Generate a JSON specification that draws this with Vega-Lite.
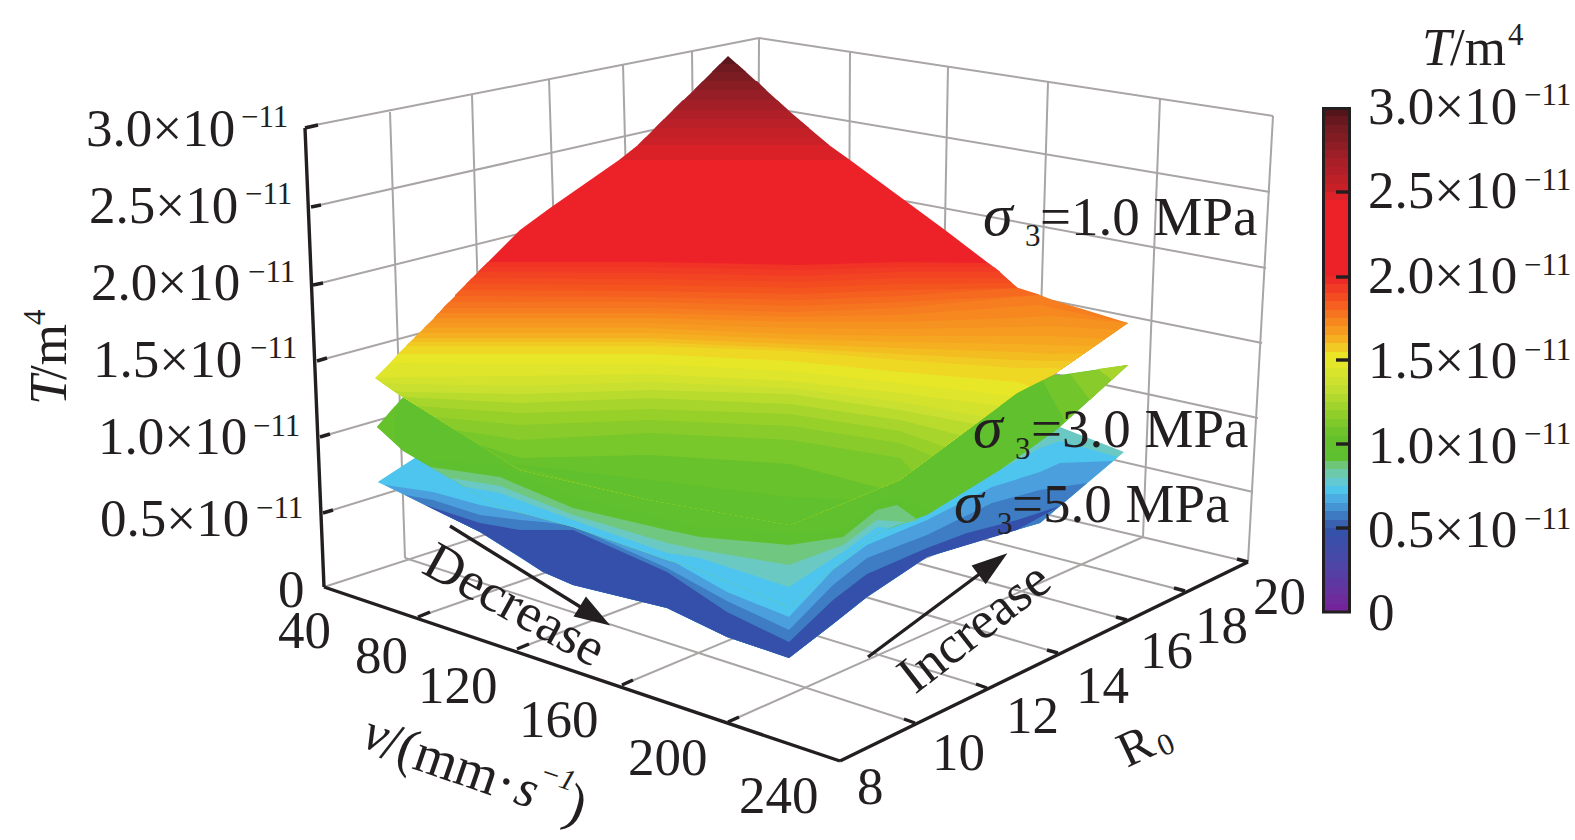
{
"$schema":"https://vega.github.io/schema/vega-lite/v6.json",
"autosize":{"type":"fit","contains":"padding"},
"padding":0,"width":1575,"height":840,"background":"white",
"config":{"view":{"stroke":null},"text":{"font":"Liberation Serif","align":"left","baseline":"alphabetic","color":"#231f20"}},
"datasets":{
"grid":[
{"x":305,"y":127,"x2":759,"y2":38},{"x":311,"y":207,"x2":759,"y2":106},{"x":313,"y":285,"x2":759,"y2":174},{"x":317,"y":361,"x2":759,"y2":242},{"x":320,"y":437,"x2":759,"y2":310},{"x":323,"y":513,"x2":759,"y2":378},{"x":324,"y":587,"x2":757,"y2":446},
{"x":759,"y":38,"x2":1273,"y2":116},{"x":759,"y":106,"x2":1270,"y2":192},{"x":759,"y":174,"x2":1266,"y2":268},{"x":759,"y":242,"x2":1262,"y2":343},{"x":759,"y":310,"x2":1258,"y2":418},{"x":759,"y":378,"x2":1253,"y2":492},{"x":757,"y":446,"x2":1248,"y2":562},
{"x":390,"y":112,"x2":405,"y2":558},{"x":472,"y":95,"x2":485,"y2":534},{"x":549,"y":79,"x2":563,"y2":509},{"x":623,"y":64,"x2":634,"y2":486},{"x":692,"y":52,"x2":697,"y2":466},{"x":759,"y":38,"x2":757,"y2":446},
{"x":850,"y":52,"x2":848,"y2":467},{"x":948,"y":67,"x2":940,"y2":489},{"x":1048,"y":82,"x2":1035,"y2":512},{"x":1160,"y":99,"x2":1143,"y2":537},{"x":1273,"y":116,"x2":1248,"y2":562},
{"x":418,"y":617,"x2":848,"y2":467},{"x":517,"y":649,"x2":940,"y2":489},{"x":622,"y":685,"x2":1035,"y2":512},{"x":728,"y":722,"x2":1143,"y2":537},
{"x":915,"y":723,"x2":405,"y2":558},{"x":987,"y":688,"x2":485,"y2":534},{"x":1058,"y":653,"x2":563,"y2":509},{"x":1127,"y":620,"x2":634,"y2":486},{"x":1185,"y":591,"x2":697,"y2":466}
],
"black":[
{"x":305,"y":128,"x2":324,"y2":587},{"x":324,"y":587,"x2":840,"y2":761},{"x":840,"y":761,"x2":1248,"y2":562},
{"x":305,"y":128,"x2":318,"y2":125},{"x":311,"y":207,"x2":321,"y2":205},{"x":313,"y":285,"x2":323,"y2":283},{"x":317,"y":361,"x2":327,"y2":358},{"x":320,"y":437,"x2":330,"y2":434},{"x":323,"y":513,"x2":333,"y2":510},
{"x":418,"y":617,"x2":430,"y2":612},{"x":517,"y":649,"x2":529,"y2":644},{"x":622,"y":685,"x2":633,"y2":680},{"x":728,"y":722,"x2":739,"y2":717},
{"x":915,"y":723,"x2":904,"y2":719},{"x":987,"y":688,"x2":976,"y2":684},{"x":1058,"y":653,"x2":1047,"y2":650},{"x":1127,"y":620,"x2":1116,"y2":617},{"x":1185,"y":591,"x2":1174,"y2":588},{"x":1248,"y":562,"x2":1237,"y2":559},
{"x":450,"y":526,"x2":595,"y2":616},{"x":868,"y":657,"x2":993,"y2":564},
{"x":1336,"y":192,"x2":1350,"y2":192},{"x":1336,"y":277,"x2":1350,"y2":277},{"x":1336,"y":360,"x2":1350,"y2":360},{"x":1336,"y":444,"x2":1350,"y2":444},{"x":1336,"y":528,"x2":1350,"y2":528}
],
"surf":[
{"s":3,"T":0.8,"x":378,"y":482,"y2":482},{"s":3,"T":0.8,"x":415,"y":458,"y2":500},{"s":3,"T":0.8,"x":480,"y":485,"y2":532},{"s":3,"T":0.8,"x":543,"y":515,"y2":572},{"s":3,"T":0.8,"x":573,"y":523,"y2":585},{"s":3,"T":0.8,"x":667,"y":552,"y2":608},{"s":3,"T":0.8,"x":727,"y":578,"y2":637},{"s":3,"T":0.8,"x":789,"y":600,"y2":658},{"s":3,"T":0.8,"x":833,"y":560,"y2":624},{"s":3,"T":0.8,"x":867,"y":538,"y2":597},{"s":3,"T":0.8,"x":927,"y":508,"y2":557},{"s":3,"T":0.8,"x":992,"y":466,"y2":537},{"s":3,"T":0.8,"x":1040,"y":437,"y2":523},{"s":3,"T":0.8,"x":1060,"y":427,"y2":506},{"s":3,"T":0.8,"x":1124,"y":452,"y2":452},
{"s":3,"T":0.72,"x":378,"y":482,"y2":482},{"s":3,"T":0.72,"x":415,"y":458,"y2":500},{"s":3,"T":0.72,"x":480,"y":485,"y2":532},{"s":3,"T":0.72,"x":543,"y":515,"y2":572},{"s":3,"T":0.72,"x":573,"y":523,"y2":585},{"s":3,"T":0.72,"x":667,"y":552,"y2":608},{"s":3,"T":0.72,"x":727,"y":578,"y2":637},{"s":3,"T":0.72,"x":789,"y":600,"y2":658},{"s":3,"T":0.72,"x":833,"y":560,"y2":624},{"s":3,"T":0.72,"x":867,"y":538,"y2":597},{"s":3,"T":0.72,"x":927,"y":508,"y2":557},{"s":3,"T":0.72,"x":992,"y":474,"y2":537},{"s":3,"T":0.72,"x":1040,"y":448,"y2":523},{"s":3,"T":0.72,"x":1060,"y":441,"y2":506},{"s":3,"T":0.72,"x":1118,"y":457,"y2":457},
{"s":3,"T":0.65,"x":385,"y":485,"y2":485},{"s":3,"T":0.65,"x":433,"y":492,"y2":509},{"s":3,"T":0.65,"x":480,"y":505,"y2":532},{"s":3,"T":0.65,"x":520,"y":513,"y2":557},{"s":3,"T":0.65,"x":543,"y":518,"y2":572},{"s":3,"T":0.65,"x":573,"y":524,"y2":585},{"s":3,"T":0.65,"x":667,"y":558,"y2":608},{"s":3,"T":0.65,"x":727,"y":592,"y2":637},{"s":3,"T":0.65,"x":789,"y":617,"y2":658},{"s":3,"T":0.65,"x":833,"y":570,"y2":624},{"s":3,"T":0.65,"x":867,"y":545,"y2":597},{"s":3,"T":0.65,"x":927,"y":520,"y2":557},{"s":3,"T":0.65,"x":992,"y":487,"y2":537},{"s":3,"T":0.65,"x":1040,"y":472,"y2":523},{"s":3,"T":0.65,"x":1060,"y":463,"y2":506},{"s":3,"T":0.65,"x":1113,"y":461,"y2":461},
{"s":3,"T":0.58,"x":405,"y":495,"y2":495},{"s":3,"T":0.58,"x":433,"y":500,"y2":509},{"s":3,"T":0.58,"x":480,"y":515,"y2":532},{"s":3,"T":0.58,"x":520,"y":520,"y2":557},{"s":3,"T":0.58,"x":543,"y":522,"y2":572},{"s":3,"T":0.58,"x":573,"y":526,"y2":585},{"s":3,"T":0.58,"x":667,"y":568,"y2":608},{"s":3,"T":0.58,"x":727,"y":601,"y2":637},{"s":3,"T":0.58,"x":789,"y":630,"y2":658},{"s":3,"T":0.58,"x":833,"y":585,"y2":624},{"s":3,"T":0.58,"x":867,"y":558,"y2":597},{"s":3,"T":0.58,"x":927,"y":535,"y2":557},{"s":3,"T":0.58,"x":992,"y":503,"y2":537},{"s":3,"T":0.58,"x":1040,"y":490,"y2":523},{"s":3,"T":0.58,"x":1087,"y":483,"y2":483},
{"s":3,"T":0.47,"x":425,"y":505,"y2":505},{"s":3,"T":0.47,"x":480,"y":523,"y2":532},{"s":3,"T":0.47,"x":520,"y":530,"y2":557},{"s":3,"T":0.47,"x":543,"y":530,"y2":572},{"s":3,"T":0.47,"x":573,"y":530,"y2":585},{"s":3,"T":0.47,"x":667,"y":572,"y2":608},{"s":3,"T":0.47,"x":727,"y":612,"y2":637},{"s":3,"T":0.47,"x":789,"y":642,"y2":658},{"s":3,"T":0.47,"x":833,"y":600,"y2":624},{"s":3,"T":0.47,"x":867,"y":574,"y2":597},{"s":3,"T":0.47,"x":927,"y":548,"y2":557},{"s":3,"T":0.47,"x":967,"y":533,"y2":545},{"s":3,"T":0.47,"x":1017,"y":520,"y2":530},{"s":3,"T":0.47,"x":1060,"y":506,"y2":506},

{"s":2,"T":1.0,"x":377,"y":427,"y2":427},{"s":2,"T":1.0,"x":403,"y":397,"y2":451},{"s":2,"T":1.0,"x":415,"y":397,"y2":458},{"s":2,"T":1.0,"x":500,"y":395,"y2":507},{"s":2,"T":1.0,"x":573,"y":393,"y2":527},{"s":2,"T":1.0,"x":667,"y":390,"y2":560},{"s":2,"T":1.0,"x":700,"y":389,"y2":570},{"s":2,"T":1.0,"x":789,"y":386,"y2":607},{"s":2,"T":1.0,"x":843,"y":384,"y2":560},{"s":2,"T":1.0,"x":877,"y":383,"y2":533},{"s":2,"T":1.0,"x":927,"y":381,"y2":515},{"s":2,"T":1.0,"x":1000,"y":377,"y2":470},{"s":2,"T":1.0,"x":1055,"y":375,"y2":431},{"s":2,"T":1.0,"x":1060,"y":375,"y2":427},{"s":2,"T":1.0,"x":1128,"y":365,"y2":365},
{"s":2,"T":1.04,"x":377,"y":427,"y2":427},{"s":2,"T":1.04,"x":395,"y":406,"y2":442},
{"s":2,"T":1.08,"x":1040,"y":376,"y2":376},{"s":2,"T":1.08,"x":1065,"y":375,"y2":422},{"s":2,"T":1.08,"x":1128,"y":365,"y2":365},
{"s":2,"T":1.15,"x":1070,"y":374,"y2":374},{"s":2,"T":1.15,"x":1090,"y":371,"y2":400},{"s":2,"T":1.15,"x":1128,"y":365,"y2":365},
{"s":2,"T":1.25,"x":1098,"y":369,"y2":369},{"s":2,"T":1.25,"x":1112,"y":367,"y2":380},{"s":2,"T":1.25,"x":1128,"y":365,"y2":365},
{"s":2,"T":0.92,"x":415,"y":458,"y2":458},{"s":2,"T":0.92,"x":500,"y":466,"y2":507},{"s":2,"T":0.92,"x":573,"y":497,"y2":527},{"s":2,"T":0.92,"x":667,"y":520,"y2":560},{"s":2,"T":0.92,"x":700,"y":527,"y2":570},{"s":2,"T":0.92,"x":789,"y":533,"y2":607},{"s":2,"T":0.92,"x":843,"y":530,"y2":560},{"s":2,"T":0.92,"x":877,"y":503,"y2":533},{"s":2,"T":0.92,"x":897,"y":498,"y2":525},{"s":2,"T":0.92,"x":930,"y":513,"y2":513},
{"s":2,"T":0.87,"x":430,"y":467,"y2":467},{"s":2,"T":0.87,"x":500,"y":477,"y2":507},{"s":2,"T":0.87,"x":573,"y":508,"y2":527},{"s":2,"T":0.87,"x":667,"y":530,"y2":560},{"s":2,"T":0.87,"x":700,"y":537,"y2":570},{"s":2,"T":0.87,"x":789,"y":545,"y2":607},{"s":2,"T":0.87,"x":843,"y":537,"y2":560},{"s":2,"T":0.87,"x":877,"y":510,"y2":533},{"s":2,"T":0.87,"x":897,"y":505,"y2":525},{"s":2,"T":0.87,"x":918,"y":520,"y2":520},
{"s":2,"T":0.8,"x":450,"y":478,"y2":478},{"s":2,"T":0.8,"x":500,"y":486,"y2":507},{"s":2,"T":0.8,"x":573,"y":515,"y2":527},{"s":2,"T":0.8,"x":667,"y":543,"y2":560},{"s":2,"T":0.8,"x":700,"y":550,"y2":570},{"s":2,"T":0.8,"x":789,"y":565,"y2":607},{"s":2,"T":0.8,"x":843,"y":545,"y2":560},{"s":2,"T":0.8,"x":877,"y":520,"y2":533},{"s":2,"T":0.8,"x":905,"y":522,"y2":522},
{"s":2,"T":0.72,"x":465,"y":487,"y2":487},{"s":2,"T":0.72,"x":500,"y":493,"y2":507},{"s":2,"T":0.72,"x":573,"y":520,"y2":527},{"s":2,"T":0.72,"x":667,"y":553,"y2":560},{"s":2,"T":0.72,"x":700,"y":558,"y2":570},{"s":2,"T":0.72,"x":789,"y":587,"y2":607},{"s":2,"T":0.72,"x":843,"y":552,"y2":560},{"s":2,"T":0.72,"x":877,"y":527,"y2":533},{"s":2,"T":0.72,"x":890,"y":528,"y2":528},

{"s":1,"T":2.95,"x":712,"y":72,"y2":300},{"s":1,"T":2.95,"x":728,"y":56,"y2":300},{"s":1,"T":2.95,"x":746,"y":72,"y2":300},
{"s":1,"T":2.9,"x":712,"y":72,"y2":300},{"s":1,"T":2.9,"x":720,"y":64,"y2":300},{"s":1,"T":2.9,"x":737,"y":64,"y2":300},{"s":1,"T":2.9,"x":746,"y":72,"y2":300},
{"s":1,"T":2.85,"x":694,"y":90,"y2":300},{"s":1,"T":2.85,"x":712,"y":72,"y2":300},{"s":1,"T":2.85,"x":746,"y":72,"y2":300},{"s":1,"T":2.85,"x":766,"y":90,"y2":300},
{"s":1,"T":2.8,"x":694,"y":90,"y2":300},{"s":1,"T":2.8,"x":703,"y":81,"y2":300},{"s":1,"T":2.8,"x":757,"y":81,"y2":300},{"s":1,"T":2.8,"x":766,"y":90,"y2":300},
{"s":1,"T":2.75,"x":673,"y":110,"y2":300},{"s":1,"T":2.75,"x":694,"y":90,"y2":300},{"s":1,"T":2.75,"x":766,"y":90,"y2":300},{"s":1,"T":2.75,"x":788,"y":110,"y2":300},
{"s":1,"T":2.7,"x":673,"y":110,"y2":300},{"s":1,"T":2.7,"x":683,"y":100,"y2":300},{"s":1,"T":2.7,"x":777,"y":100,"y2":300},{"s":1,"T":2.7,"x":788,"y":110,"y2":300},
{"s":1,"T":2.65,"x":655,"y":128,"y2":300},{"s":1,"T":2.65,"x":673,"y":110,"y2":300},{"s":1,"T":2.65,"x":788,"y":110,"y2":300},{"s":1,"T":2.65,"x":809,"y":128,"y2":300},
{"s":1,"T":2.6,"x":655,"y":128,"y2":300},{"s":1,"T":2.6,"x":664,"y":119,"y2":300},{"s":1,"T":2.6,"x":798,"y":119,"y2":300},{"s":1,"T":2.6,"x":809,"y":128,"y2":300},
{"s":1,"T":2.55,"x":638,"y":145,"y2":300},{"s":1,"T":2.55,"x":655,"y":128,"y2":300},{"s":1,"T":2.55,"x":809,"y":128,"y2":300},{"s":1,"T":2.55,"x":829,"y":145,"y2":300},
{"s":1,"T":2.52,"x":638,"y":145,"y2":300},{"s":1,"T":2.52,"x":646,"y":137,"y2":300},{"s":1,"T":2.52,"x":819,"y":137,"y2":300},{"s":1,"T":2.52,"x":829,"y":145,"y2":300},
{"s":1,"T":2.48,"x":619,"y":160,"y2":300},{"s":1,"T":2.48,"x":638,"y":145,"y2":300},{"s":1,"T":2.48,"x":829,"y":145,"y2":300},{"s":1,"T":2.48,"x":850,"y":160,"y2":300},
{"s":1,"T":2.4,"x":478,"y":272,"y2":300},{"s":1,"T":2.4,"x":500,"y":250,"y2":300},{"s":1,"T":2.4,"x":520,"y":230,"y2":300},{"s":1,"T":2.4,"x":550,"y":208,"y2":300},{"s":1,"T":2.4,"x":619,"y":160,"y2":300},{"s":1,"T":2.4,"x":850,"y":160,"y2":300},{"s":1,"T":2.4,"x":945,"y":230,"y2":300},{"s":1,"T":2.4,"x":1000,"y":272,"y2":300},
{"s":1,"T":1.95,"x":478,"y":272,"y2":380},{"s":1,"T":1.95,"x":488,"y":262,"y2":380},{"s":1,"T":1.95,"x":650,"y":262,"y2":380},{"s":1,"T":1.95,"x":800,"y":265,"y2":380},{"s":1,"T":1.95,"x":900,"y":262,"y2":380},{"s":1,"T":1.95,"x":988,"y":263,"y2":380},{"s":1,"T":1.95,"x":1000,"y":272,"y2":380},
{"s":1,"T":1.925,"x":478,"y":272,"y2":380},{"s":1,"T":1.925,"x":483,"y":267,"y2":380},{"s":1,"T":1.925,"x":650,"y":267,"y2":380},{"s":1,"T":1.925,"x":800,"y":270,"y2":380},{"s":1,"T":1.925,"x":900,"y":267,"y2":380},{"s":1,"T":1.925,"x":994,"y":267,"y2":380},{"s":1,"T":1.925,"x":1000,"y":272,"y2":380},
{"s":1,"T":1.9,"x":466,"y":284,"y2":380},{"s":1,"T":1.9,"x":478,"y":272,"y2":380},{"s":1,"T":1.9,"x":650,"y":273,"y2":380},{"s":1,"T":1.9,"x":800,"y":276,"y2":380},{"s":1,"T":1.9,"x":900,"y":272,"y2":380},{"s":1,"T":1.9,"x":1000,"y":272,"y2":380},{"s":1,"T":1.9,"x":1012,"y":283,"y2":380},
{"s":1,"T":1.875,"x":466,"y":284,"y2":380},{"s":1,"T":1.875,"x":472,"y":278,"y2":380},{"s":1,"T":1.875,"x":650,"y":279,"y2":380},{"s":1,"T":1.875,"x":800,"y":282,"y2":380},{"s":1,"T":1.875,"x":900,"y":278,"y2":380},{"s":1,"T":1.875,"x":1006,"y":278,"y2":380},{"s":1,"T":1.875,"x":1012,"y":283,"y2":380},
{"s":1,"T":1.85,"x":455,"y":295,"y2":380},{"s":1,"T":1.85,"x":466,"y":284,"y2":380},{"s":1,"T":1.85,"x":650,"y":285,"y2":380},{"s":1,"T":1.85,"x":800,"y":288,"y2":380},{"s":1,"T":1.85,"x":900,"y":284,"y2":380},{"s":1,"T":1.85,"x":1012,"y":283,"y2":380},{"s":1,"T":1.85,"x":1018,"y":288,"y2":380},
{"s":1,"T":1.825,"x":455,"y":296,"y2":380},{"s":1,"T":1.825,"x":461,"y":290,"y2":380},{"s":1,"T":1.825,"x":650,"y":291,"y2":380},{"s":1,"T":1.825,"x":800,"y":294,"y2":380},{"s":1,"T":1.825,"x":900,"y":290,"y2":380},{"s":1,"T":1.825,"x":1018,"y":288,"y2":380},{"s":1,"T":1.825,"x":1040,"y":295,"y2":380},
{"s":1,"T":1.8,"x":443,"y":308,"y2":380},{"s":1,"T":1.8,"x":455,"y":296,"y2":380},{"s":1,"T":1.8,"x":650,"y":297,"y2":380},{"s":1,"T":1.8,"x":800,"y":300,"y2":380},{"s":1,"T":1.8,"x":900,"y":296,"y2":380},{"s":1,"T":1.8,"x":1018,"y":288,"y2":380},{"s":1,"T":1.8,"x":1040,"y":295,"y2":380},
{"s":1,"T":1.775,"x":443,"y":308,"y2":380},{"s":1,"T":1.775,"x":449,"y":302,"y2":380},{"s":1,"T":1.775,"x":650,"y":302,"y2":380},{"s":1,"T":1.775,"x":795,"y":306,"y2":380},{"s":1,"T":1.775,"x":900,"y":302,"y2":380},{"s":1,"T":1.775,"x":1040,"y":295,"y2":380},
{"s":1,"T":1.75,"x":434,"y":318,"y2":380},{"s":1,"T":1.75,"x":443,"y":308,"y2":380},{"s":1,"T":1.75,"x":650,"y":308,"y2":380},{"s":1,"T":1.75,"x":790,"y":312,"y2":380},{"s":1,"T":1.75,"x":900,"y":308,"y2":380},{"s":1,"T":1.75,"x":1040,"y":295,"y2":380},{"s":1,"T":1.75,"x":1045,"y":297,"y2":379},{"s":1,"T":1.75,"x":1053,"y":300,"y2":375},{"s":1,"T":1.75,"x":1128,"y":323,"y2":323},
{"s":1,"T":1.725,"x":434,"y":318,"y2":380},{"s":1,"T":1.725,"x":438,"y":313,"y2":380},{"s":1,"T":1.725,"x":650,"y":313,"y2":380},{"s":1,"T":1.725,"x":790,"y":317,"y2":380},{"s":1,"T":1.725,"x":900,"y":315,"y2":380},{"s":1,"T":1.725,"x":1040,"y":305,"y2":380},{"s":1,"T":1.725,"x":1053,"y":308,"y2":375},{"s":1,"T":1.725,"x":1128,"y":323,"y2":323},
{"s":1,"T":1.7,"x":424,"y":328,"y2":380},{"s":1,"T":1.7,"x":434,"y":318,"y2":380},{"s":1,"T":1.7,"x":650,"y":318,"y2":380},{"s":1,"T":1.7,"x":790,"y":322,"y2":380},{"s":1,"T":1.7,"x":900,"y":322,"y2":380},{"s":1,"T":1.7,"x":1017,"y":318,"y2":380},{"s":1,"T":1.7,"x":1053,"y":316,"y2":375},{"s":1,"T":1.7,"x":1128,"y":323,"y2":323},
{"s":1,"T":1.675,"x":424,"y":328,"y2":380},{"s":1,"T":1.675,"x":429,"y":323,"y2":380},{"s":1,"T":1.675,"x":650,"y":323,"y2":380},{"s":1,"T":1.675,"x":790,"y":328,"y2":380},{"s":1,"T":1.675,"x":900,"y":329,"y2":380},{"s":1,"T":1.675,"x":1017,"y":327,"y2":380},{"s":1,"T":1.675,"x":1053,"y":326,"y2":375},{"s":1,"T":1.675,"x":1118,"y":330,"y2":330},
{"s":1,"T":1.65,"x":414,"y":338,"y2":380},{"s":1,"T":1.65,"x":424,"y":328,"y2":380},{"s":1,"T":1.65,"x":650,"y":328,"y2":380},{"s":1,"T":1.65,"x":790,"y":334,"y2":380},{"s":1,"T":1.65,"x":900,"y":336,"y2":380},{"s":1,"T":1.65,"x":1017,"y":336,"y2":380},{"s":1,"T":1.65,"x":1053,"y":336,"y2":375},{"s":1,"T":1.65,"x":1105,"y":339,"y2":339},
{"s":1,"T":1.625,"x":414,"y":338,"y2":380},{"s":1,"T":1.625,"x":419,"y":333,"y2":380},{"s":1,"T":1.625,"x":650,"y":333,"y2":380},{"s":1,"T":1.625,"x":790,"y":339,"y2":380},{"s":1,"T":1.625,"x":900,"y":342,"y2":380},{"s":1,"T":1.625,"x":1017,"y":344,"y2":380},{"s":1,"T":1.625,"x":1053,"y":345,"y2":375},{"s":1,"T":1.625,"x":1095,"y":346,"y2":346},
{"s":1,"T":1.6,"x":406,"y":346,"y2":380},{"s":1,"T":1.6,"x":414,"y":338,"y2":380},{"s":1,"T":1.6,"x":650,"y":338,"y2":380},{"s":1,"T":1.6,"x":790,"y":344,"y2":380},{"s":1,"T":1.6,"x":900,"y":348,"y2":380},{"s":1,"T":1.6,"x":1017,"y":352,"y2":380},{"s":1,"T":1.6,"x":1053,"y":354,"y2":375},{"s":1,"T":1.6,"x":1085,"y":353,"y2":353},
{"s":1,"T":1.575,"x":406,"y":346,"y2":380},{"s":1,"T":1.575,"x":410,"y":342,"y2":380},{"s":1,"T":1.575,"x":650,"y":342,"y2":380},{"s":1,"T":1.575,"x":790,"y":348,"y2":380},{"s":1,"T":1.575,"x":900,"y":354,"y2":380},{"s":1,"T":1.575,"x":1017,"y":360,"y2":380},{"s":1,"T":1.575,"x":1053,"y":361,"y2":375},{"s":1,"T":1.575,"x":1073,"y":361,"y2":361},
{"s":1,"T":1.55,"x":398,"y":354,"y2":394},{"s":1,"T":1.55,"x":406,"y":346,"y2":399},{"s":1,"T":1.55,"x":520,"y":346,"y2":470},{"s":1,"T":1.55,"x":650,"y":346,"y2":500},{"s":1,"T":1.55,"x":790,"y":351,"y2":525},{"s":1,"T":1.55,"x":900,"y":360,"y2":480},{"s":1,"T":1.55,"x":1017,"y":368,"y2":393},{"s":1,"T":1.55,"x":1053,"y":368,"y2":375},{"s":1,"T":1.55,"x":1062,"y":369,"y2":369},
{"s":1,"T":1.5,"x":389,"y":364,"y2":388},{"s":1,"T":1.5,"x":398,"y":354,"y2":394},{"s":1,"T":1.5,"x":520,"y":354,"y2":470},{"s":1,"T":1.5,"x":650,"y":354,"y2":500},{"s":1,"T":1.5,"x":790,"y":361,"y2":525},{"s":1,"T":1.5,"x":900,"y":372,"y2":480},{"s":1,"T":1.5,"x":1017,"y":382,"y2":393},{"s":1,"T":1.5,"x":1030,"y":386,"y2":386},
{"s":1,"T":1.45,"x":375,"y":378,"y2":378},{"s":1,"T":1.45,"x":389,"y":364,"y2":388},{"s":1,"T":1.45,"x":403,"y":363,"y2":397},{"s":1,"T":1.45,"x":520,"y":364,"y2":470},{"s":1,"T":1.45,"x":650,"y":364,"y2":500},{"s":1,"T":1.45,"x":790,"y":371,"y2":525},{"s":1,"T":1.45,"x":900,"y":383,"y2":480},{"s":1,"T":1.45,"x":1012,"y":396,"y2":396},
{"s":1,"T":1.4,"x":375,"y":378,"y2":378},{"s":1,"T":1.4,"x":403,"y":377,"y2":397},{"s":1,"T":1.4,"x":520,"y":376,"y2":470},{"s":1,"T":1.4,"x":650,"y":374,"y2":500},{"s":1,"T":1.4,"x":790,"y":381,"y2":525},{"s":1,"T":1.4,"x":900,"y":393,"y2":480},{"s":1,"T":1.4,"x":1000,"y":406,"y2":406},
{"s":1,"T":1.35,"x":382,"y":383,"y2":383},{"s":1,"T":1.35,"x":403,"y":384,"y2":397},{"s":1,"T":1.35,"x":520,"y":386,"y2":470},{"s":1,"T":1.35,"x":650,"y":382,"y2":500},{"s":1,"T":1.35,"x":790,"y":388,"y2":525},{"s":1,"T":1.35,"x":900,"y":402,"y2":480},{"s":1,"T":1.35,"x":985,"y":417,"y2":417},
{"s":1,"T":1.3,"x":392,"y":390,"y2":390},{"s":1,"T":1.3,"x":403,"y":392,"y2":397},{"s":1,"T":1.3,"x":520,"y":394,"y2":470},{"s":1,"T":1.3,"x":650,"y":390,"y2":500},{"s":1,"T":1.3,"x":790,"y":394,"y2":525},{"s":1,"T":1.3,"x":900,"y":410,"y2":480},{"s":1,"T":1.3,"x":975,"y":424,"y2":424},
{"s":1,"T":1.25,"x":403,"y":397,"y2":397},{"s":1,"T":1.25,"x":520,"y":403,"y2":470},{"s":1,"T":1.25,"x":650,"y":398,"y2":500},{"s":1,"T":1.25,"x":790,"y":404,"y2":525},{"s":1,"T":1.25,"x":900,"y":420,"y2":480},{"s":1,"T":1.25,"x":960,"y":435,"y2":435},
{"s":1,"T":1.2,"x":417,"y":406,"y2":406},{"s":1,"T":1.2,"x":520,"y":413,"y2":470},{"s":1,"T":1.2,"x":650,"y":409,"y2":500},{"s":1,"T":1.2,"x":790,"y":414,"y2":525},{"s":1,"T":1.2,"x":900,"y":431,"y2":480},{"s":1,"T":1.2,"x":945,"y":447,"y2":447},
{"s":1,"T":1.15,"x":435,"y":417,"y2":417},{"s":1,"T":1.15,"x":520,"y":425,"y2":470},{"s":1,"T":1.15,"x":650,"y":420,"y2":500},{"s":1,"T":1.15,"x":790,"y":426,"y2":525},{"s":1,"T":1.15,"x":900,"y":443,"y2":480},{"s":1,"T":1.15,"x":932,"y":456,"y2":456},
{"s":1,"T":1.1,"x":455,"y":430,"y2":430},{"s":1,"T":1.1,"x":520,"y":440,"y2":470},{"s":1,"T":1.1,"x":650,"y":433,"y2":500},{"s":1,"T":1.1,"x":790,"y":440,"y2":525},{"s":1,"T":1.1,"x":900,"y":458,"y2":480},{"s":1,"T":1.1,"x":912,"y":471,"y2":471},
{"s":1,"T":1.05,"x":480,"y":445,"y2":445},{"s":1,"T":1.05,"x":520,"y":458,"y2":470},{"s":1,"T":1.05,"x":650,"y":455,"y2":500},{"s":1,"T":1.05,"x":790,"y":464,"y2":525},{"s":1,"T":1.05,"x":880,"y":488,"y2":488},
{"s":1,"T":1.0,"x":510,"y":464,"y2":464},{"s":1,"T":1.0,"x":650,"y":480,"y2":500},{"s":1,"T":1.0,"x":790,"y":497,"y2":525},{"s":1,"T":1.0,"x":850,"y":500,"y2":500}
],
"bar":[
{"x":1323,"x2":1350,"y":604,"y2":612,"T":0.025},{"x":1323,"x2":1350,"y":595,"y2":604,"T":0.075},{"x":1323,"x2":1350,"y":587,"y2":595,"T":0.125},{"x":1323,"x2":1350,"y":578,"y2":587,"T":0.175},{"x":1323,"x2":1350,"y":570,"y2":578,"T":0.225},{"x":1323,"x2":1350,"y":562,"y2":570,"T":0.275},{"x":1323,"x2":1350,"y":553,"y2":562,"T":0.325},{"x":1323,"x2":1350,"y":545,"y2":553,"T":0.375},{"x":1323,"x2":1350,"y":536,"y2":545,"T":0.425},{"x":1323,"x2":1350,"y":528,"y2":536,"T":0.475},
{"x":1323,"x2":1350,"y":520,"y2":528,"T":0.525},{"x":1323,"x2":1350,"y":511,"y2":520,"T":0.575},{"x":1323,"x2":1350,"y":503,"y2":511,"T":0.625},{"x":1323,"x2":1350,"y":494,"y2":503,"T":0.675},{"x":1323,"x2":1350,"y":486,"y2":494,"T":0.725},{"x":1323,"x2":1350,"y":478,"y2":486,"T":0.775},{"x":1323,"x2":1350,"y":469,"y2":478,"T":0.825},{"x":1323,"x2":1350,"y":461,"y2":469,"T":0.875},{"x":1323,"x2":1350,"y":452,"y2":461,"T":0.925},{"x":1323,"x2":1350,"y":444,"y2":452,"T":0.975},
{"x":1323,"x2":1350,"y":436,"y2":444,"T":1.025},{"x":1323,"x2":1350,"y":427,"y2":436,"T":1.075},{"x":1323,"x2":1350,"y":419,"y2":427,"T":1.125},{"x":1323,"x2":1350,"y":410,"y2":419,"T":1.175},{"x":1323,"x2":1350,"y":402,"y2":410,"T":1.225},{"x":1323,"x2":1350,"y":394,"y2":402,"T":1.275},{"x":1323,"x2":1350,"y":385,"y2":394,"T":1.325},{"x":1323,"x2":1350,"y":377,"y2":385,"T":1.375},{"x":1323,"x2":1350,"y":368,"y2":377,"T":1.425},{"x":1323,"x2":1350,"y":360,"y2":368,"T":1.475},
{"x":1323,"x2":1350,"y":352,"y2":360,"T":1.525},{"x":1323,"x2":1350,"y":343,"y2":352,"T":1.575},{"x":1323,"x2":1350,"y":335,"y2":343,"T":1.625},{"x":1323,"x2":1350,"y":326,"y2":335,"T":1.675},{"x":1323,"x2":1350,"y":318,"y2":326,"T":1.725},{"x":1323,"x2":1350,"y":310,"y2":318,"T":1.775},{"x":1323,"x2":1350,"y":301,"y2":310,"T":1.825},{"x":1323,"x2":1350,"y":293,"y2":301,"T":1.875},{"x":1323,"x2":1350,"y":284,"y2":293,"T":1.925},{"x":1323,"x2":1350,"y":276,"y2":284,"T":1.975},
{"x":1323,"x2":1350,"y":268,"y2":276,"T":2.025},{"x":1323,"x2":1350,"y":259,"y2":268,"T":2.075},{"x":1323,"x2":1350,"y":251,"y2":259,"T":2.125},{"x":1323,"x2":1350,"y":242,"y2":251,"T":2.175},{"x":1323,"x2":1350,"y":234,"y2":242,"T":2.225},{"x":1323,"x2":1350,"y":226,"y2":234,"T":2.275},{"x":1323,"x2":1350,"y":217,"y2":226,"T":2.325},{"x":1323,"x2":1350,"y":209,"y2":217,"T":2.375},{"x":1323,"x2":1350,"y":200,"y2":209,"T":2.425},{"x":1323,"x2":1350,"y":192,"y2":200,"T":2.475},
{"x":1323,"x2":1350,"y":184,"y2":192,"T":2.525},{"x":1323,"x2":1350,"y":175,"y2":184,"T":2.575},{"x":1323,"x2":1350,"y":167,"y2":175,"T":2.625},{"x":1323,"x2":1350,"y":158,"y2":167,"T":2.675},{"x":1323,"x2":1350,"y":150,"y2":158,"T":2.725},{"x":1323,"x2":1350,"y":142,"y2":150,"T":2.775},{"x":1323,"x2":1350,"y":133,"y2":142,"T":2.825},{"x":1323,"x2":1350,"y":125,"y2":133,"T":2.875},{"x":1323,"x2":1350,"y":116,"y2":125,"T":2.925},{"x":1323,"x2":1350,"y":108,"y2":116,"T":2.975}
]
},
"encoding":{
"x":{"field":"x","type":"quantitative","axis":null,"title":null,"scale":{"domain":[0,1575],"nice":false,"zero":false}},
"y":{"field":"y","type":"quantitative","axis":null,"title":null,"stack":null,"scale":{"domain":[840,0],"nice":false,"zero":false}}
},
"layer":[
{"data":{"name":"grid"},"mark":{"type":"rule","color":"#a9a5a5","strokeWidth":2},"encoding":{"x2":{"field":"x2"},"y2":{"field":"y2"}}},
{"data":{"name":"surf"},"mark":{"type":"area","orient":"vertical","interpolate":"linear"},
"encoding":{"y2":{"field":"y2"},"detail":[{"field":"s"},{"field":"T"}],
"color":{"field":"T","type":"quantitative","legend":null,"scale":{"interpolate":"rgb","clamp":true,
"domain":[0,0.1,0.3,0.47,0.53,0.6,0.65,0.72,0.8,0.87,0.92,1.0,1.05,1.2,1.35,1.52,1.62,1.75,1.86,2.0,2.45,2.5,2.7,2.9,3.0],
"range":["#76209a","#6a2f9c","#4a48a8","#3550ab","#3a62b0","#4088cb","#4a9fdc","#4ec5ee","#6bc9c4","#70c880","#5fc02f","#60c02d","#68c22b","#98d02a","#c9e030","#ece826","#f5b120","#f77e20","#f4511f","#ed2229","#ed2229","#ce2028","#a31f28","#6e1a20","#4d1218"]}}}},
{"data":{"name":"bar"},"mark":{"type":"rect"},
"encoding":{"x2":{"field":"x2"},"y2":{"field":"y2"},
"color":{"field":"T","type":"quantitative","legend":null,"scale":{"interpolate":"rgb","clamp":true,
"domain":[0,0.1,0.3,0.47,0.53,0.6,0.65,0.72,0.8,0.87,0.92,1.0,1.05,1.2,1.35,1.52,1.62,1.75,1.86,2.0,2.45,2.5,2.7,2.9,3.0],
"range":["#76209a","#6a2f9c","#4a48a8","#3550ab","#3a62b0","#4088cb","#4a9fdc","#4ec5ee","#6bc9c4","#70c880","#5fc02f","#60c02d","#68c22b","#98d02a","#c9e030","#ece826","#f5b120","#f77e20","#f4511f","#ed2229","#ed2229","#ce2028","#a31f28","#6e1a20","#4d1218"]}}}},
{"data":{"values":[{"x":1323.5,"x2":1349.5,"y":108.5,"y2":612}]},"mark":{"type":"rect","fillOpacity":0,"stroke":"#231f20","strokeWidth":3},"encoding":{"x2":{"field":"x2"},"y2":{"field":"y2"}}},
{"data":{"name":"black"},"mark":{"type":"rule","color":"#231f20","strokeWidth":3.4},"encoding":{"x2":{"field":"x2"},"y2":{"field":"y2"}}},
{"data":{"values":[{"x":595,"y":616}]},"mark":{"type":"point","filled":true,"opacity":1,"color":"#231f20","shape":"M0,-1L0.65,1L-0.65,1Z","size":1296,"angle":122}},
{"data":{"values":[{"x":993,"y":564}]},"mark":{"type":"point","filled":true,"opacity":1,"color":"#231f20","shape":"M0,-1L0.65,1L-0.65,1Z","size":1296,"angle":53}},
{"data":{"values":[
{"x":86,"y":146,"t":"3.0×10"},{"x":89,"y":223,"t":"2.5×10"},{"x":91,"y":300,"t":"2.0×10"},{"x":93,"y":377,"t":"1.5×10"},{"x":98,"y":454,"t":"1.0×10"},{"x":100,"y":536,"t":"0.5×10"},{"x":278,"y":607,"t":"0"},
{"x":278,"y":648,"t":"40"},{"x":355,"y":673,"t":"80"},{"x":418,"y":703,"t":"120"},{"x":519,"y":737,"t":"160"},{"x":628,"y":775,"t":"200"},{"x":739,"y":813,"t":"240"},
{"x":857,"y":804,"t":"8"},{"x":932,"y":770,"t":"10"},{"x":1006,"y":733,"t":"12"},{"x":1076,"y":703,"t":"14"},{"x":1140,"y":668,"t":"16"},{"x":1195,"y":643,"t":"18"},{"x":1253,"y":614,"t":"20"},
{"x":1368,"y":124,"t":"3.0×10"},{"x":1368,"y":208,"t":"2.5×10"},{"x":1368,"y":293,"t":"2.0×10"},{"x":1368,"y":378,"t":"1.5×10"},{"x":1368,"y":463,"t":"1.0×10"},{"x":1368,"y":547,"t":"0.5×10"},{"x":1368,"y":630,"t":"0"},
{"x":1450,"y":65,"t":"/m"}
]},"mark":{"type":"text","fontSize":53},"encoding":{"text":{"field":"t"}}},
{"data":{"values":[
{"x":1040,"y":235,"t":"=1.0 MPa"},{"x":1031,"y":447,"t":"=3.0 MPa"},{"x":1012,"y":522,"t":"=5.0 MPa"}
]},"mark":{"type":"text","fontSize":55},"encoding":{"text":{"field":"t"}}},
{"data":{"values":[
{"x":241,"y":127,"t":"−11"},{"x":245,"y":204,"t":"−11"},{"x":248,"y":282,"t":"−11"},{"x":250,"y":358,"t":"−11"},{"x":253,"y":436,"t":"−11"},{"x":256,"y":518,"t":"−11"},
{"x":1524,"y":105,"t":"−11"},{"x":1524,"y":190,"t":"−11"},{"x":1524,"y":275,"t":"−11"},{"x":1524,"y":360,"t":"−11"},{"x":1524,"y":444,"t":"−11"},{"x":1524,"y":529,"t":"−11"},
{"x":1508,"y":45,"t":"4"},
{"x":1025,"y":246,"t":"3"},{"x":1015,"y":459,"t":"3"},{"x":997,"y":534,"t":"3"}
]},"mark":{"type":"text","fontSize":31},"encoding":{"text":{"field":"t"}}},
{"data":{"values":[{"x":1422,"y":65,"t":"T"}]},"mark":{"type":"text","fontSize":53,"fontStyle":"italic"},"encoding":{"text":{"field":"t"}}},
{"data":{"values":[
{"x":983,"y":235,"t":"σ"},{"x":973,"y":447,"t":"σ"},{"x":954,"y":522,"t":"σ"}
]},"mark":{"type":"text","fontSize":60,"fontStyle":"italic"},"encoding":{"text":{"field":"t"}}},
{"data":{"values":[{"x":66,"y":405,"t":"T"}]},"mark":{"type":"text","fontSize":53,"fontStyle":"italic","angle":-90},"encoding":{"text":{"field":"t"}}},
{"data":{"values":[{"x":66,"y":380,"t":"/m"}]},"mark":{"type":"text","fontSize":53,"angle":-90},"encoding":{"text":{"field":"t"}}},
{"data":{"values":[{"x":45,"y":325,"t":"4"}]},"mark":{"type":"text","fontSize":31,"angle":-90},"encoding":{"text":{"field":"t"}}},
{"data":{"values":[{"x":420,"y":572,"t":"Decrease"}]},"mark":{"type":"text","fontSize":54,"angle":29},"encoding":{"text":{"field":"t"}}},
{"data":{"values":[{"x":915,"y":695,"t":"Increase"}]},"mark":{"type":"text","fontSize":53,"angle":-38},"encoding":{"text":{"field":"t"}}},
{"data":{"values":[{"x":360,"y":746,"t":"ν"},{"x":512,"y":802,"t":"s"}]},"mark":{"type":"text","fontSize":53,"fontStyle":"italic","angle":19},"encoding":{"text":{"field":"t"}}},
{"data":{"values":[{"x":379,"y":757,"t":"/(mm·"},{"x":562,"y":818,"t":")"}]},"mark":{"type":"text","fontSize":55,"angle":19},"encoding":{"text":{"field":"t"}}},
{"data":{"values":[{"x":538,"y":780,"t":"−1"}]},"mark":{"type":"text","fontSize":30,"fontStyle":"italic","angle":19},"encoding":{"text":{"field":"t"}}},
{"data":{"values":[{"x":1127,"y":768,"t":"R"}]},"mark":{"type":"text","fontSize":50,"angle":-25},"encoding":{"text":{"field":"t"}}},
{"data":{"values":[{"x":1163,"y":757,"t":"0"}]},"mark":{"type":"text","fontSize":31,"angle":-25},"encoding":{"text":{"field":"t"}}}
]
}
